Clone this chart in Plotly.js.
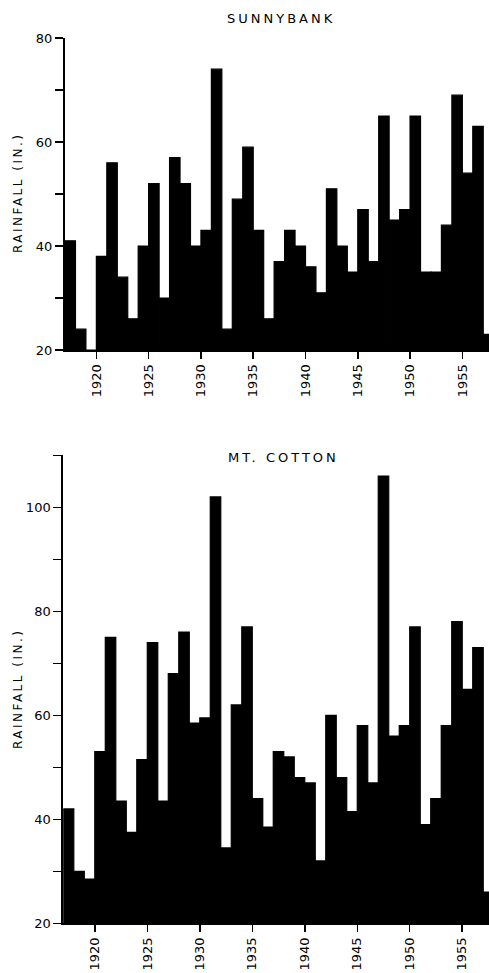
<!DOCTYPE html>
<html>
<head>
<meta charset="utf-8">
<script src="https://cdn.plot.ly/plotly-3.0.1.min.js"></script>
<style>html,body{margin:0;padding:0;background:#fff;}#chart{width:489px;height:973px;}</style>
</head>
<body>
<div id="chart"></div>
<script>
const years = [1917,1918,1919,1920,1921,1922,1923,1924,1925,1926,1927,1928,1929,1930,1931,1932,1933,1934,1935,1936,1937,1938,1939,1940,1941,1942,1943,1944,1945,1946,1947,1948,1949,1950,1951,1952,1953,1954,1955,1956,1957];
const sunnybank = [41,24,20,38,56,34,26,40,52,30,57,52,40,43,74,24,49,59,43,26,37,43,40,36,31,51,40,35,47,37,65,45,47,65,35,35,44,69,54,63,23];
const mtCotton = [42,30,28.5,53,75,43.5,37.5,51.5,74,43.5,68,76,58.5,59.5,102,34.5,62,77,44,38.5,53,52,48,47,32,60,48,41.5,58,47,106,56,58,77,39,44,58,78,65,73,26];
const xTickVals = [1920,1925,1930,1935,1940,1945,1950,1955];
const xTickText = ['1920','1925','1930','1935','1940','1945','1950','1955'];
const yTopVals = [20,30,40,50,60,70,80];
const yTopText = ['20','','40','','60','','80'];
const yBotVals = [20,30,40,50,60,70,80,90,100,110];
const yBotText = ['20','','40','','60','','80','','100',''];
const titleTop = 'SUNNYBANK';
const titleBot = 'MT. COTTON';
const yTitle = 'RAINFALL (IN.)';

const FONT = 'DejaVu Sans';
const barStyle = {color:'#000', line:{color:'#000', width:1.2}};

const traces = [
  {type:'bar', x:years, y:sunnybank, width:1, offset:0, marker:barStyle, xaxis:'x', yaxis:'y', hoverinfo:'x+y'},
  {type:'bar', x:years, y:mtCotton, width:1, offset:0, marker:barStyle, xaxis:'x2', yaxis:'y2', hoverinfo:'x+y'}
];

const xCommon = {
  range:[1917,1957.55], showgrid:false, zeroline:false, showline:true, linecolor:'#000', linewidth:2,
  ticks:'outside', ticklen:7, tickwidth:1.5, tickcolor:'#000', tickangle:-90,
  tickvals:xTickVals, ticktext:xTickText, tickfont:{family:FONT, size:13, color:'#000'}
};
const yCommon = {
  showgrid:false, zeroline:false, showline:true, linecolor:'#000', linewidth:2,
  ticks:'outside', ticklen:8, tickwidth:1.5, tickcolor:'#000',
  tickfont:{family:FONT, size:13, color:'#000'}
};

const layout = {
  width:489, height:973, margin:{l:0, r:0, t:0, b:0},
  paper_bgcolor:'#fff', plot_bgcolor:'#fff', showlegend:false, bargap:0,
  xaxis: Object.assign({}, xCommon, {domain:[65/489, 1], anchor:'y'}),
  yaxis: Object.assign({}, yCommon, {domain:[1-350/973, 1-38/973], range:[20,80], tickvals:yTopVals, ticktext:yTopText, anchor:'x'}),
  xaxis2: Object.assign({}, xCommon, {domain:[63.3/489, 1], anchor:'y2'}),
  yaxis2: Object.assign({}, yCommon, {domain:[1-923.3/973, 1-455.3/973], range:[20,110], tickvals:yBotVals, ticktext:yBotText, anchor:'x2'}),
  annotations:[
    {text:'<span style="letter-spacing:3px">'+titleTop+'</span>', xref:'paper', yref:'paper', x:281/489, y:1-18/973, xanchor:'center', yanchor:'middle', showarrow:false, font:{family:FONT, size:13, color:'#000'}},
    {text:'<span style="letter-spacing:3px">'+titleBot+'</span>', xref:'paper', yref:'paper', x:283/489, y:1-457.5/973, xanchor:'center', yanchor:'middle', showarrow:false, font:{family:FONT, size:13, color:'#000'}},
    {text:'<span style="letter-spacing:2.5px">'+yTitle+'</span>', xref:'paper', yref:'paper', x:18/489, y:1-193/973, xanchor:'center', yanchor:'middle', textangle:-90, showarrow:false, font:{family:FONT, size:12, color:'#000'}},
    {text:'<span style="letter-spacing:2.5px">'+yTitle+'</span>', xref:'paper', yref:'paper', x:18/489, y:1-689/973, xanchor:'center', yanchor:'middle', textangle:-90, showarrow:false, font:{family:FONT, size:12, color:'#000'}}
  ]
};

Plotly.newPlot('chart', traces, layout, {staticPlot:true, displayModeBar:false});
</script>
</body>
</html>
